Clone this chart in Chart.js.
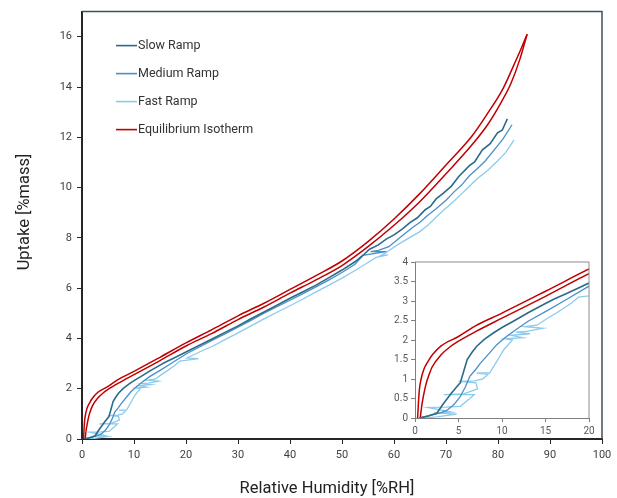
<!DOCTYPE html>
<html>
<head>
<meta charset="utf-8">
<title>Uptake vs RH</title>
<script src="https://cdn.jsdelivr.net/npm/chart.js@4.4.1/dist/chart.umd.min.js"></script>
<style>
  html, body { margin: 0; padding: 0; background: #fff; }
  #wrap { position: relative; width: 617px; height: 498px; }
  #mainChart { position: absolute; left: 0; top: 0; }
  #insetChart { position: absolute; left: 370px; top: 250px; }
</style>
</head>
<body>
<div id="wrap">
  <canvas id="mainChart" width="617" height="498"></canvas>
  <canvas id="insetChart" width="240" height="200"></canvas>
</div>
<script>
// Данные (RH %, uptake %mass)
const xSlow = [0.5, 1.5, 2.5, 3.3, 4.2, 4.8, 5.2, 5.6, 6.0, 6.6, 7.1, 8.0, 9.0, 10.0, 11.3, 13.0, 15.1, 16.0, 17.5, 20.0,
  22.5, 25.0, 27.5, 30.0, 32.5, 35.0, 37.5, 40.0, 42.5, 45.0, 47.5, 50.0, 52.5, 54.0, 55.3, 57.0, 58.5, 60.0, 61.7, 63.0,
  64.5, 66.0, 67.0, 68.1, 69.5, 71.0, 72.5, 74.5, 75.5, 77.0, 78.5, 79.9, 80.8, 81.8];
const ySlow = [0, 0.05, 0.12, 0.38, 0.64, 0.8, 0.9, 1.2, 1.5, 1.7, 1.84, 2.02, 2.18, 2.32, 2.48, 2.7, 2.95, 3.05, 3.2, 3.46,
  3.72, 3.98, 4.24, 4.5, 4.78, 5.05, 5.32, 5.6, 5.86, 6.12, 6.42, 6.72, 7.05, 7.3, 7.55, 7.72, 7.95, 8.12, 8.37, 8.6,
  8.8, 9.12, 9.25, 9.55, 9.78, 10.05, 10.45, 10.87, 11.02, 11.5, 11.75, 12.18, 12.28, 12.73];

const xMedium = [0.5, 2.0, 3.0, 3.7, 4.5, 5.2, 5.8, 6.3, 7.0, 7.5, 8.5, 9.4, 10.3, 11.3, 13.0, 15.1, 17.5, 20.0, 22.5, 25.0,
  27.5, 30.0, 32.5, 35.0, 37.5, 40.0, 42.5, 45.0, 47.5, 50.0, 52.5, 54.0, 58.5, 55.5, 57.0, 59.0, 61.7, 63.5, 65.0, 66.5,
  68.1, 70.0, 71.5, 73.0, 74.5, 76.0, 77.5, 79.9, 81.0, 82.7];
const yMedium = [0, 0.08, 0.14, 0.2, 0.35, 0.55, 0.8, 1.07, 1.25, 1.4, 1.65, 1.88, 2.05, 2.22, 2.48, 2.74, 3.05, 3.38, 3.65, 3.92,
  4.18, 4.45, 4.72, 5.0, 5.26, 5.52, 5.78, 6.05, 6.33, 6.62, 6.95, 7.3, 7.45, 7.45, 7.5, 7.65, 8.1, 8.4, 8.62, 8.9,
  9.16, 9.5, 9.82, 10.1, 10.47, 10.75, 11.05, 11.66, 11.95, 12.5];

const xFast = [1.0, 2.5, 4.8, 2.2, 4.2, 1.5, 3.6, 5.2, 6.3, 6.8, 3.3, 5.6, 7.2, 7.0, 5.0, 6.9, 7.8, 8.4, 7.1, 8.6,
  9.4, 10.2, 11.2, 10.4, 12.4, 11.0, 13.2, 11.6, 12.8, 14.7, 12.6, 14.0, 15.2, 16.3, 18.0, 18.8, 22.4, 20.2, 21.0, 23.0,
  25.0, 27.5, 30.0, 32.5, 35.0, 37.5, 40.0, 42.5, 45.0, 47.5, 50.0, 52.5, 55.0, 56.6, 58.8, 57.5, 58.5, 60.5, 62.5, 64.9,
  66.5, 68.0, 69.5, 71.3, 73.0, 74.5, 76.0, 78.0, 79.9, 81.5, 83.1];
const yFast = [0, 0.03, 0.1, 0.13, 0.15, 0.27, 0.28, 0.3, 0.5, 0.6, 0.6, 0.62, 0.75, 0.9, 0.94, 0.95, 1.0, 1.12, 1.15, 1.16,
  1.45, 1.75, 2.0, 2.03, 2.06, 2.12, 2.16, 2.2, 2.22, 2.3, 2.34, 2.38, 2.55, 2.7, 2.95, 3.1, 3.2, 3.22, 3.3, 3.5,
  3.68, 3.95, 4.22, 4.5, 4.78, 5.04, 5.3, 5.57, 5.85, 6.12, 6.4, 6.7, 7.02, 7.22, 7.32, 7.3, 7.42, 7.7, 7.95, 8.24,
  8.5, 8.8, 9.1, 9.42, 9.75, 10.05, 10.35, 10.68, 11.06, 11.4, 11.9];

// Изотерма: две ветви (сорбция и десорбция), сходятся наверху
const xIsoAds = [0.6, 0.8, 1.0, 1.3, 1.6, 2, 3, 4, 5, 7, 10, 15, 20, 25, 30, 35, 40, 45, 50, 55, 60, 65, 70, 75, 78, 80.5, 82.5, 84.2, 85.6];
const yIsoAds = [0, 0.35, 0.6, 0.9, 1.1, 1.32, 1.62, 1.82, 1.97, 2.22, 2.56, 3.12, 3.70, 4.2, 4.75, 5.25, 5.8, 6.33, 6.9, 7.65, 8.5, 9.45, 10.55, 11.7, 12.5, 13.35, 14.15, 15.1, 16.1];
const xIsoDes = [0.3, 0.4, 0.5, 0.7, 1, 1.5, 2, 3, 5, 7, 10, 15, 20, 25, 30, 35, 40, 45, 50, 55, 60, 65, 70, 75, 78, 81, 83, 84.5, 85.6];
const yIsoDes = [0, 0.4, 0.72, 1.0, 1.24, 1.45, 1.62, 1.85, 2.09, 2.37, 2.69, 3.25, 3.82, 4.35, 4.9, 5.4, 5.95, 6.5, 7.08, 7.85, 8.75, 9.77, 10.9, 12.05, 12.95, 13.95, 14.85, 15.55, 16.1];

const mainX = [0, 100, 10];   // min, max, step
const mainY = [0, 17, 2];
const insetX = [0, 20, 5];
const insetY = [0, 4, 0.5];

const FONT = 'Roboto, "Open Sans", sans-serif';

function zip(xs, ys) {
    return xs.map((x, i) => ({ x: x, y: ys[i] }));
}

function makeDatasets() {
    const base = { showLine: true, pointRadius: 0, pointHoverRadius: 0, fill: false };
    return [
        Object.assign({}, base, { label: 'Slow Ramp', data: zip(xSlow, ySlow), borderColor: '#2c6b88', borderWidth: 1.6 }),
        Object.assign({}, base, { label: 'Medium Ramp', data: zip(xMedium, yMedium), borderColor: '#4a8fca', borderWidth: 1.3 }),
        Object.assign({}, base, { label: 'Fast Ramp', data: zip(xFast, yFast), borderColor: '#8ccbec', borderWidth: 1.3 }),
        Object.assign({}, base, { label: 'Equilibrium Isotherm', data: zip(xIsoAds, yIsoAds), borderColor: '#c00000', borderWidth: 1.5, cubicInterpolationMode: 'monotone' }),
        Object.assign({}, base, { label: 'Equilibrium Isotherm', data: zip(xIsoDes, yIsoDes), borderColor: '#c00000', borderWidth: 1.5, cubicInterpolationMode: 'monotone', hideInLegend: true })
    ];
}

function axis(range, size, tickColor, fontSize, tickLen, pad, borderColor, borderWidth) {
    return {
        type: 'linear',
        min: range[0],
        max: range[1],
        ticks: {
            stepSize: range[2],
            includeBounds: false,
            color: tickColor,
            padding: pad,
            font: { family: FONT, size: fontSize },
            callback: v => String(v)
        },
        grid: { drawOnChartArea: false, drawTicks: true, tickLength: tickLen, tickColor: borderColor, tickWidth: 1 },
        border: { color: borderColor, width: borderWidth },
        afterFit: size
    };
}

// Рамка, подписи осей и легенда основного графика
const mainDecor = {
    id: 'mainDecor',
    afterDraw(chart) {
        const ctx = chart.ctx;
        const a = chart.chartArea;
        ctx.save();
        ctx.strokeStyle = '#3e505c';
        ctx.lineWidth = 1.5;
        ctx.beginPath();
        ctx.moveTo(a.left, a.top);
        ctx.lineTo(a.right, a.top);
        ctx.lineTo(a.right, a.bottom);
        ctx.stroke();

        ctx.fillStyle = '#222';
        ctx.font = '16.5px ' + FONT;
        ctx.textAlign = 'center';
        ctx.textBaseline = 'middle';
        ctx.fillText('Relative Humidity [%RH]', 327, 489);
        ctx.translate(25, 212);
        ctx.rotate(-Math.PI / 2);
        ctx.fillText('Uptake [%mass]', 0, 0);
        ctx.restore();

        ctx.save();
        ctx.font = '12.5px ' + FONT;
        ctx.textAlign = 'left';
        ctx.textBaseline = 'middle';
        const items = chart.data.datasets.filter(ds => !ds.hideInLegend);
        items.forEach((ds, i) => {
            const y = a.top + 34 + i * 28;
            ctx.strokeStyle = ds.borderColor;
            ctx.lineWidth = 1.6;
            ctx.beginPath();
            ctx.moveTo(116, y);
            ctx.lineTo(137, y);
            ctx.stroke();
            ctx.fillStyle = '#333';
            ctx.fillText(ds.label, 138, y);
        });
        ctx.restore();
    }
};

const insetFrame = {
    id: 'insetFrame',
    afterDraw(chart) {
        const ctx = chart.ctx;
        const a = chart.chartArea;
        ctx.save();
        ctx.strokeStyle = '#8c8c8c';
        ctx.lineWidth = 1;
        ctx.beginPath();
        ctx.moveTo(a.left, a.top);
        ctx.lineTo(a.right, a.top);
        ctx.lineTo(a.right, a.bottom);
        ctx.stroke();
        ctx.restore();
    }
};

document.addEventListener('DOMContentLoaded', function() {
    // Основной график
    new Chart(document.getElementById('mainChart').getContext('2d'), {
        type: 'scatter',
        data: { datasets: makeDatasets() },
        options: {
            responsive: false,
            animation: false,
            layout: { padding: { top: 8, right: 15, left: 0, bottom: 0 } },
            plugins: { legend: { display: false }, tooltip: { enabled: false } },
            scales: {
                x: axis(mainX, s => { s.height = 59; }, '#404040', 11, 5, 5, '#262626', 2),
                y: axis(mainY, s => { s.width = 82; }, '#404040', 11, 5, 5, '#262626', 2)
            }
        },
        plugins: [mainDecor]
    });

    // Врезка 0–20 %RH
    new Chart(document.getElementById('insetChart').getContext('2d'), {
        type: 'scatter',
        data: { datasets: makeDatasets() },
        options: {
            responsive: false,
            animation: false,
            layout: { padding: { top: 12, right: 21, left: 0, bottom: 0 } },
            plugins: { legend: { display: false }, tooltip: { enabled: false } },
            scales: {
                x: axis(insetX, s => { s.height = 32; }, '#595959', 10, 4, 3, '#7f7f7f', 1),
                y: axis(insetY, s => { s.width = 45; }, '#595959', 10, 4, 3, '#7f7f7f', 1)
            }
        },
        plugins: [insetFrame]
    });
});
</script>
</body>
</html>
